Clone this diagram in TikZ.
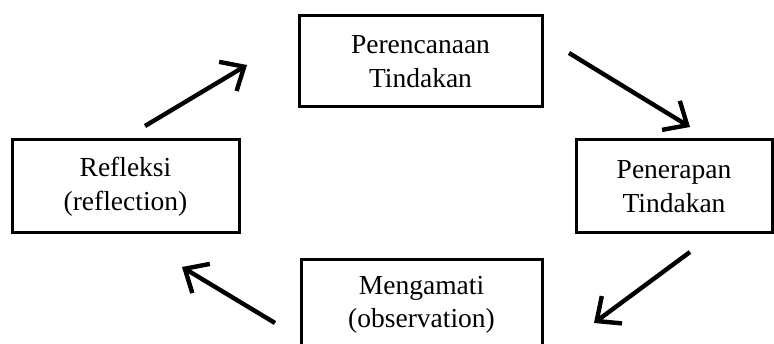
\documentclass[tikz,border=0pt]{standalone}
\usepackage{fontspec}
\setmainfont{Liberation Serif}
\usetikzlibrary{arrows.meta}
\tikzset{every path/.style={black}, stagebox/.style={draw, line width=3pt, align=center, inner sep=0pt, font=\fontsize{27.5}{33.5}\selectfont}, cyclearrow/.style={line width=4.4pt, -{Straight Barb[length=19pt, width=34pt, line width=4.4pt]}}}

\begin{document}
\begin{tikzpicture}[x=1pt, y=-1pt]
  \useasboundingbox (0,0) rectangle (774,344);
  \node[stagebox, minimum width=243pt, minimum height=91pt] (plan) at (420.5, 61.5) {Perencanaan\\Tindakan};
  \node[stagebox, minimum width=196pt, minimum height=93pt] (act) at (674.0, 186.5) {Penerapan\\Tindakan};
  \node[stagebox, minimum width=241pt, minimum height=91pt] (obs) at (421.5, 305.0) {Mengamati\\(observation)};
  \node[stagebox, minimum width=227pt, minimum height=93pt] (refl) at (125.5, 186.5) {Refleksi\\(reflection)};
  \coordinate (r1) at (145, 126);
  \coordinate (p1) at (247, 65);
  \coordinate (p2) at (569, 53);
  \coordinate (a2) at (690, 127);
  \coordinate (a3) at (690, 252);
  \coordinate (o3) at (594, 323);
  \coordinate (o4) at (275, 323);
  \coordinate (r4) at (182, 267);
  \draw[cyclearrow] (r1) -- (p1);
  \draw[cyclearrow] (p2) -- (a2);
  \draw[cyclearrow] (a3) -- (o3);
  \draw[cyclearrow] (o4) -- (r4);
 \end{tikzpicture}
\end{document}
